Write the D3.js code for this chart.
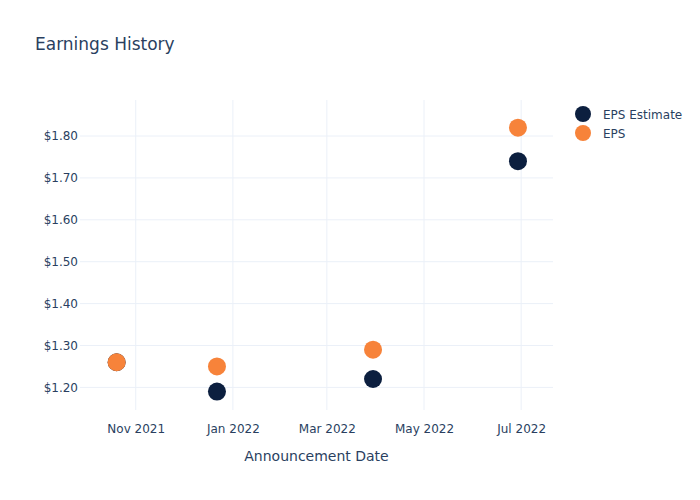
<!DOCTYPE html>
<html><head><meta charset="utf-8">
<script src="https://cdn.jsdelivr.net/npm/d3@7"></script>
<style>body{margin:0;background:#fff}svg{font-family:"DejaVu Sans",Verdana,sans-serif}</style>
</head><body>
<svg id="c" width="700" height="500"></svg>
<script>
const dates = ["2021-10-20","2021-12-22","2022-03-30","2022-06-29"];
const epsEstimate = [1.26, 1.19, 1.22, 1.74];
const eps = [1.26, 1.25, 1.29, 1.82];
const yTicks = [1.2,1.3,1.4,1.5,1.6,1.7,1.8];
const xTicks = ["2021-11-01","2022-01-01","2022-03-01","2022-05-01","2022-07-01"];
const seriesNames = ["EPS Estimate","EPS"];
const colors = ["#0c1f3f","#f7833a"];

const parse = d3.timeParse("%Y-%m-%d");
const svg = d3.select("#c");
const L=80,R=553,T=100,B=410;
const x = d3.scaleTime().domain([parse("2021-09-27"),parse("2022-07-21")]).range([L,R]);
const y = d3.scaleLinear().domain([1.146,1.886]).range([B,T]);
const ink="#2a3f5f", grid="#ebf0f8";

svg.append("g").selectAll("line").data(yTicks).join("line")
  .attr("x1",L).attr("x2",R).attr("y1",d=>y(d)).attr("y2",d=>y(d)).attr("stroke",grid);
svg.append("g").selectAll("line").data(xTicks).join("line")
  .attr("x1",d=>x(parse(d))).attr("x2",d=>x(parse(d))).attr("y1",T).attr("y2",B).attr("stroke",grid);

const yAx = svg.append("g").attr("transform",`translate(${L},0)`)
  .call(d3.axisLeft(y).tickValues(yTicks).tickFormat(d=>"$"+d.toFixed(2)).tickSize(0).tickPadding(2));
yAx.select(".domain").remove();
yAx.selectAll("text").attr("fill",ink).attr("font-size",12).attr("font-family","DejaVu Sans");

const xAx = svg.append("g").attr("transform",`translate(0,${B})`)
  .call(d3.axisBottom(x).tickValues(xTicks.map(parse)).tickFormat(d3.timeFormat("%b %Y")).tickSize(0).tickPadding(14));
xAx.select(".domain").remove();
xAx.selectAll("text").attr("fill",ink).attr("font-size",12).attr("font-family","DejaVu Sans");

[epsEstimate, eps].forEach((vals,i)=>{
  svg.append("g").selectAll("circle").data(vals).join("circle")
    .attr("cx",(d,j)=>x(parse(dates[j]))).attr("cy",d=>y(d)).attr("r",9)
    .attr("fill",colors[i]);
});

svg.append("text").attr("x",35).attr("y",50).attr("fill",ink).attr("font-size",17).text("Earnings History");
svg.append("text").attr("x",(L+R)/2).attr("y",461).attr("text-anchor","middle").attr("fill",ink).attr("font-size",14).text("Announcement Date");

const lg = svg.append("g");
seriesNames.forEach((n,i)=>{
  lg.append("circle").attr("cx",583).attr("cy",114+i*19).attr("r",8).attr("fill",colors[i]);
  lg.append("text").attr("x",603).attr("y",119+i*19).attr("fill",ink).attr("font-size",12).text(n);
});
</script>
</body></html>
